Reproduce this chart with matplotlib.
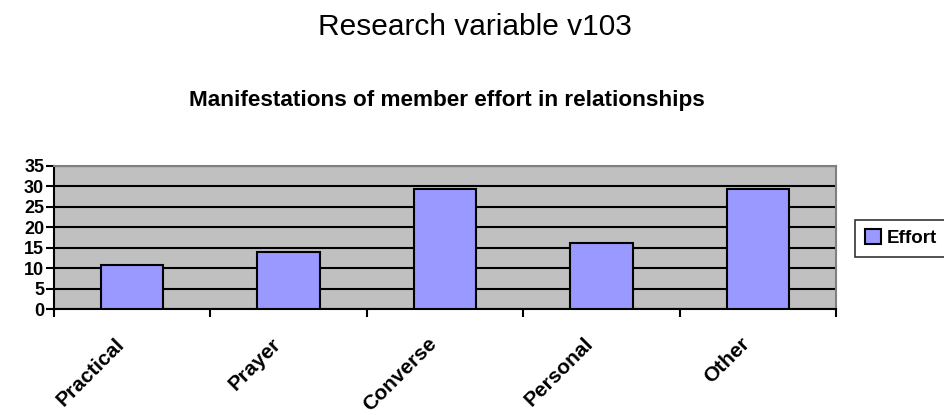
import matplotlib
matplotlib.use("Agg")
from matplotlib import pyplot as plt
from matplotlib.transforms import ScaledTranslation
import numpy as np

categories = ["Practical", "Prayer", "Converse", "Personal", "Other"]
effort = [10.8, 14.0, 29.3, 16.2, 29.3]
y_ticks = [0, 5, 10, 15, 20, 25, 30, 35]

plt.rcParams['font.family'] = ['Liberation Sans', 'DejaVu Sans']


def draw_effort_chart(file_name="out.png"):
    fig = plt.figure(figsize=(9.45, 4.15), dpi=100)
    ax = fig.add_axes([0.0571, 0.2554, 0.8276, 0.3446])
    ax.set_facecolor("#C0C0C0")

    x = np.arange(len(categories)) + 0.5
    ax.bar(x, effort, width=0.4, color="#9999FF", edgecolor="black",
           linewidth=1.5, label="Effort", zorder=3)

    ax.set_xlim(0, len(categories))
    ax.set_ylim(0, 35)
    ax.set_yticks(y_ticks)
    ax.set_yticklabels([str(v) for v in y_ticks], fontsize=13, fontweight="bold")
    ax.yaxis.grid(True, color="black", linewidth=1.5, zorder=1)
    ax.set_axisbelow(True)

    # boundaries get tick marks, centres get the labels
    ax.set_xticks(np.arange(len(categories) + 1))
    ax.set_xticklabels([])
    ax.set_xticks(x, minor=True)
    ax.set_xticklabels(categories, minor=True, rotation=45, ha="right",
                       va="center", rotation_mode="anchor",
                       fontsize=15, fontweight="bold")
    ax.tick_params(axis="x", which="minor", length=0, pad=23)
    ax.tick_params(axis="x", which="major", length=6, width=1.5, direction="out")
    ax.tick_params(axis="y", length=6, width=1.5, pad=1)
    shift = ScaledTranslation(-11 / 100, 0, fig.dpi_scale_trans)
    for lab in ax.get_xticklabels(minor=True):
        lab.set_transform(lab.get_transform() + shift)

    for side in ["left", "bottom"]:
        ax.spines[side].set_color("black")
        ax.spines[side].set_linewidth(1.5)
    for side in ["top", "right"]:
        ax.spines[side].set_color("#808080")
        ax.spines[side].set_linewidth(1.5)

    fig.text(0.5026, 0.9157, "Research variable v103", ha="center", va="baseline", fontsize=21.5)
    fig.text(0.473, 0.7446, "Manifestations of member effort in relationships",
             ha="center", va="baseline", fontsize=16.2, fontweight="bold")

    leg = ax.legend(loc="center left", bbox_to_anchor=(0.905, 0.4265),
                    bbox_transform=fig.transFigure, frameon=True, fancybox=False,
                    handlelength=0.9, handleheight=0.9, handletextpad=0.3,
                    borderpad=0.5, borderaxespad=0,
                    prop={"size": 13.5, "weight": "bold"})
    leg.get_frame().set_edgecolor("black")
    leg.get_frame().set_linewidth(1.2)

    fig.savefig(file_name, dpi=100)


draw_effort_chart()
